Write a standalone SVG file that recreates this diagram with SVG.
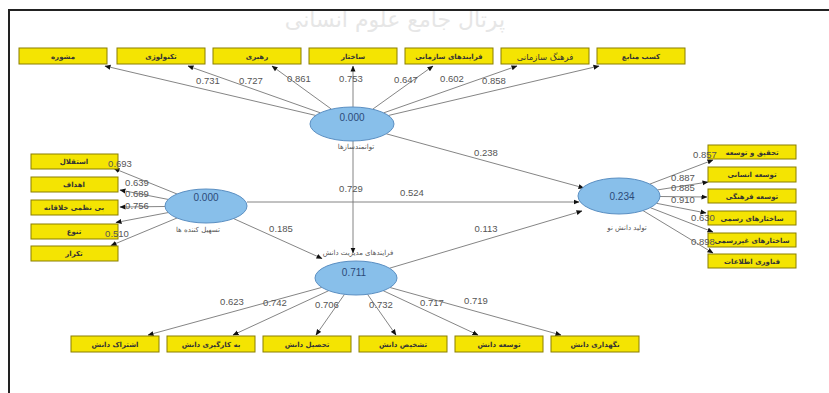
<svg xmlns="http://www.w3.org/2000/svg" width="829" height="393" viewBox="0 0 829 393">
<defs>
<marker id="ah" markerWidth="6" markerHeight="6" refX="5.5" refY="3" orient="auto" markerUnits="userSpaceOnUse">
<path d="M0,0.5 L6,3 L0,5.5 z" fill="#111"/>
</marker>
<style>
.box{fill:#f4e402;stroke:#8a7f00;stroke-width:1}
.bt{font-family:"DejaVu Sans",sans-serif;font-size:7px;font-weight:bold;fill:#333;text-anchor:middle}
.ell{fill:#88bfea;stroke:#5b8fc2;stroke-width:1}
.ev{font-family:"Liberation Sans",Arial,sans-serif;font-size:10px;fill:#2c4a78;text-anchor:middle}
.el{font-family:"DejaVu Sans",sans-serif;font-size:7px;fill:#555;text-anchor:middle}
.v{font-family:"Liberation Sans",Arial,sans-serif;font-size:9.5px;fill:#555;text-anchor:middle}
.c line{stroke:#777;stroke-width:0.9;marker-end:url(#ah)}
</style>
</defs>
<rect x="0" y="0" width="829" height="393" fill="#fff"/>
<text x="395" y="27" font-family="DejaVu Sans,sans-serif" font-size="22" fill="#e6e6e6" text-anchor="middle">پرتال جامع علوم انسانی</text>
<path d="M9,393 V10 H829" fill="none" stroke="#222" stroke-width="2"/>

<g id="connectors" class="c">
<line x1="316" y1="115.5" x2="105" y2="66"/>
<line x1="320.3" y1="112.8" x2="188" y2="66"/>
<line x1="331.5" y1="109.2" x2="272" y2="66"/>
<line x1="353" y1="107" x2="353" y2="66"/>
<line x1="372.7" y1="109.2" x2="433" y2="66"/>
<line x1="383.8" y1="112.8" x2="517" y2="66"/>
<line x1="388.3" y1="115.5" x2="599" y2="66"/>
<line x1="177" y1="194" x2="114" y2="168.5"/>
<line x1="168" y1="199.4" x2="120" y2="190"/>
<line x1="165" y1="206.5" x2="120" y2="207"/>
<line x1="168" y1="212.6" x2="116" y2="222.5"/>
<line x1="177" y1="218" x2="111" y2="245.5"/>
<line x1="649.8" y1="184.1" x2="713" y2="160"/>
<line x1="657.6" y1="189.9" x2="708" y2="182"/>
<line x1="660" y1="196.5" x2="707" y2="197"/>
<line x1="656.5" y1="203.3" x2="706" y2="213"/>
<line x1="650.3" y1="207.7" x2="713" y2="232"/>
<line x1="643" y1="210.6" x2="713" y2="253"/>
<line x1="321.8" y1="287.4" x2="148" y2="335"/>
<line x1="328.7" y1="290.7" x2="233" y2="335"/>
<line x1="344.5" y1="294.3" x2="316" y2="335"/>
<line x1="367.5" y1="294.3" x2="396" y2="335"/>
<line x1="383.2" y1="290.7" x2="478" y2="335"/>
<line x1="390" y1="287.5" x2="561" y2="335"/>
<line x1="386.3" y1="133.8" x2="584" y2="188"/>
<line x1="247" y1="202" x2="579" y2="202"/>
<line x1="233.6" y1="218.6" x2="322" y2="258.5"/>
<line x1="389.6" y1="268.2" x2="582" y2="211"/>
<line x1="353" y1="141" x2="353" y2="253"/>
</g>

<g id="enablers">
<ellipse class="ell" cx="352" cy="124" rx="42" ry="17"/>
<text class="ev" x="352" y="121">0.000</text>
<text class="el" x="356" y="149">توانمندسازها</text>
</g>
<g id="facilitators">
<ellipse class="ell" cx="206" cy="206" rx="41" ry="17"/>
<text class="ev" x="206" y="201">0.000</text>
<text class="el" x="198" y="232">تسهیل کننده ها</text>
</g>
<g id="new-knowledge">
<ellipse class="ell" cx="619" cy="196" rx="41" ry="18"/>
<text class="ev" x="622" y="200">0.234</text>
<text class="el" x="627" y="230">تولید دانش نو</text>
</g>
<g id="km-processes">
<ellipse class="ell" cx="356" cy="278" rx="41" ry="17"/>
<text class="ev" x="354" y="276">0.711</text>
<text class="el" x="358" y="255">فرایندهای مدیریت دانش</text>
</g>

<g id="top-1"><rect class="box" x="19" y="48" width="88" height="16"/><text class="bt" x="63" y="59">مشوره</text></g>
<g id="top-2"><rect class="box" x="117" y="48" width="88" height="16"/><text class="bt" x="161" y="59">تکنولوژی</text></g>
<g id="top-3"><rect class="box" x="213" y="48" width="88" height="16"/><text class="bt" x="257" y="59">رهبری</text></g>
<g id="top-4"><rect class="box" x="309" y="48" width="88" height="16"/><text class="bt" x="353" y="59">ساختار</text></g>
<g id="top-5"><rect class="box" x="405" y="48" width="88" height="16"/><text class="bt" x="449" y="59">فرایندهای سازمانی</text></g>
<g id="top-6"><rect class="box" x="501" y="48" width="88" height="16"/><text class="bt" x="545" y="60" style="font-size:8.5px;font-weight:normal">فرهنگ سازمانی</text></g>
<g id="top-7"><rect class="box" x="597" y="48" width="88" height="16"/><text class="bt" x="641" y="59">کسب منابع</text></g>

<g id="left-1"><rect class="box" x="31" y="154" width="87" height="15"/><text class="bt" x="74" y="164">استقلال</text></g>
<g id="left-2"><rect class="box" x="31" y="177" width="87" height="15"/><text class="bt" x="74" y="187">اهداف</text></g>
<g id="left-3"><rect class="box" x="31" y="200" width="87" height="15"/><text class="bt" x="74" y="210">بی نظمی خلاقانه</text></g>
<g id="left-4"><rect class="box" x="31" y="224" width="87" height="15"/><text class="bt" x="74" y="234">تنوع</text></g>
<g id="left-5"><rect class="box" x="31" y="246" width="87" height="15"/><text class="bt" x="74" y="256">تکرار</text></g>

<g id="right-1"><rect class="box" x="708" y="145" width="88" height="14"/><text class="bt" x="752" y="154.5">تحقیق و توسعه</text></g>
<g id="right-2"><rect class="box" x="708" y="167" width="88" height="15"/><text class="bt" x="752" y="177">توسعه انسانی</text></g>
<g id="right-3"><rect class="box" x="708" y="189" width="88" height="14"/><text class="bt" x="752" y="198.5">توسعه فرهنگی</text></g>
<g id="right-4"><rect class="box" x="708" y="211" width="88" height="14"/><text class="bt" x="752" y="220.5">ساختارهای رسمی</text></g>
<g id="right-5"><rect class="box" x="708" y="233" width="88" height="14"/><text class="bt" x="752" y="242.5">ساختارهای غیررسمی</text></g>
<g id="right-6"><rect class="box" x="708" y="254" width="88" height="14"/><text class="bt" x="752" y="263.5">فناوری اطلاعات</text></g>

<g id="bottom-1"><rect class="box" x="71" y="336" width="88" height="16"/><text class="bt" x="115" y="347">اشتراک دانش</text></g>
<g id="bottom-2"><rect class="box" x="167" y="336" width="88" height="16"/><text class="bt" x="211" y="347">به کارگیری دانش</text></g>
<g id="bottom-3"><rect class="box" x="263" y="336" width="88" height="16"/><text class="bt" x="307" y="347">تحصیل دانش</text></g>
<g id="bottom-4"><rect class="box" x="359" y="336" width="88" height="16"/><text class="bt" x="403" y="347">تشخیص دانش</text></g>
<g id="bottom-5"><rect class="box" x="455" y="336" width="88" height="16"/><text class="bt" x="499" y="347">توسعه دانش</text></g>
<g id="bottom-6"><rect class="box" x="551" y="336" width="88" height="16"/><text class="bt" x="595" y="347">نگهداری دانش</text></g>

<g id="loadings">
<text class="v" x="208" y="84">0.731</text>
<text class="v" x="251" y="84">0.727</text>
<text class="v" x="299" y="82">0.861</text>
<text class="v" x="351" y="82">0.753</text>
<text class="v" x="406" y="83">0.647</text>
<text class="v" x="452" y="82">0.602</text>
<text class="v" x="494" y="84">0.858</text>
<text class="v" x="120" y="167">0.693</text>
<text class="v" x="137" y="186">0.639</text>
<text class="v" x="137" y="197">0.689</text>
<text class="v" x="137" y="209">0.756</text>
<text class="v" x="117" y="237">0.510</text>
<text class="v" x="705" y="158">0.857</text>
<text class="v" x="683" y="181">0.887</text>
<text class="v" x="683" y="191">0.885</text>
<text class="v" x="683" y="203">0.910</text>
<text class="v" x="703" y="221">0.630</text>
<text class="v" x="703" y="245">0.898</text>
<text class="v" x="486" y="156">0.238</text>
<text class="v" x="412" y="196">0.524</text>
<text class="v" x="281" y="232">0.185</text>
<text class="v" x="486" y="232">0.113</text>
<text class="v" x="351" y="192">0.729</text>
<text class="v" x="232" y="305">0.623</text>
<text class="v" x="275" y="306">0.742</text>
<text class="v" x="327" y="308">0.706</text>
<text class="v" x="381" y="308">0.732</text>
<text class="v" x="432" y="306">0.717</text>
<text class="v" x="476" y="304">0.719</text>
</g>
</svg>
